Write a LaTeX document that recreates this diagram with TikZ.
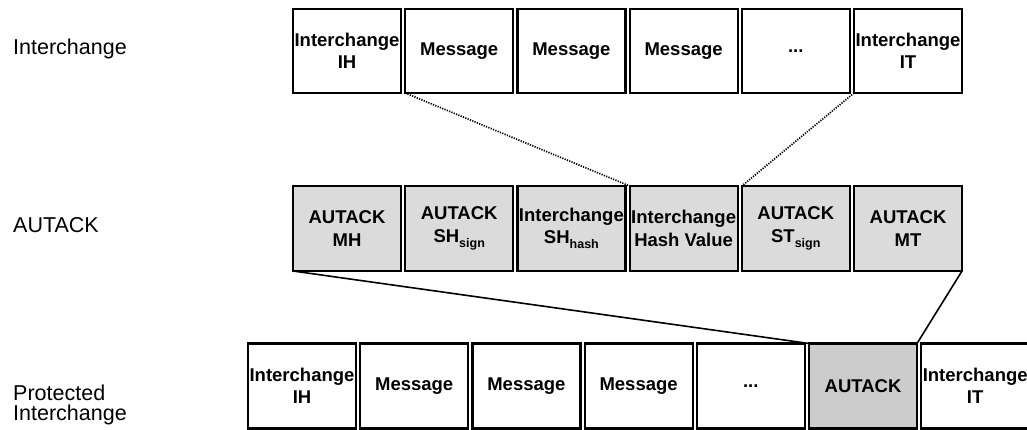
\documentclass[tikz,border=0pt]{standalone}
\usepackage{fontspec}
\setmainfont{Liberation Sans}
% lowered small text for segment subscripts
\newcommand\segsub[1]{\raisebox{-5pt}{\fontsize{12.5}{12.5}\selectfont #1}}
\begin{document}
\begin{tikzpicture}[x=1pt,y=-1pt,
  seg/.style={draw=black, line width=2.2pt, minimum width=108pt,
    inner sep=0pt, outer sep=0pt, align=center,
    font=\fontsize{18.5}{22.5}\selectfont\bfseries},
  toprow/.style={seg, fill=white, minimum height=84pt},
  midrow/.style={seg, fill=black!14, minimum height=85pt},
  botrow/.style={seg, fill=white, minimum height=85pt},
  autack/.style={botrow, fill=black!20},
  rowlabel/.style={anchor=base west, inner sep=0pt, font=\fontsize{21.5}{20}\selectfont},
  hashlink/.style={draw=black, line width=1.7pt, dash pattern=on 1.2pt off 1.3pt},
  embedlink/.style={draw=black, line width=1.6pt}]
\useasboundingbox (0,0) rectangle (1027,430);
\clip (0,0) rectangle (1027,430);

% row labels
\node[rowlabel] (lint) at (13,55) {Interchange};
\node[rowlabel] (laut) at (13,233) {AUTACK};
\node[rowlabel] (lpro1) at (13,400) {Protected};
\node[rowlabel] (lpro2) at (13,420) {Interchange};

% interchange
\node[toprow] (t1) at (347,51)   {Interchange\\IH};
\node[toprow] (t2) at (459.2,51) {Message};
\node[toprow] (t3) at (571.4,51) {Message};
\node[toprow] (t4) at (683.6,51) {Message};
\node[toprow] (t5) at (795.8,51) {...};
\node[toprow] (t6) at (908,51)   {Interchange\\IT};

% AUTACK message
\node[midrow] (m1) at (347,228.5)   {AUTACK\\MH};
\node[midrow] (m2) at (459.2,228.5) {AUTACK\\SH\segsub{sign}};
\node[midrow] (m3) at (571.4,228.5) {Interchange\\SH\segsub{hash}};
\node[midrow] (m4) at (683.6,228.5) {Interchange\\Hash Value};
\node[midrow] (m5) at (795.8,228.5) {AUTACK\\ST\segsub{sign}};
\node[midrow] (m6) at (908,228.5)   {AUTACK\\MT};

% protected interchange
\node[botrow] (b1) at (302,386)   {Interchange\\IH};
\node[botrow] (b2) at (414.2,386) {Message};
\node[botrow] (b3) at (526.4,386) {Message};
\node[botrow] (b4) at (638.6,386) {Message};
\node[botrow] (b5) at (750.8,386) {...};
\node[autack] (b6) at (863,386)   {AUTACK};
\node[botrow] (b7) at (975.2,386) {Interchange\\IT};

% hashed range of the interchange
\draw[hashlink] (t2.south west) -- (m4.north west);
\draw[hashlink] (t6.south west) -- (m5.north west);

% AUTACK placed inside the protected interchange
\draw[embedlink] (m1.south west) -- (b6.north west);
\draw[embedlink] (m6.south east) -- (b6.north east);
\end{tikzpicture}
\end{document}
